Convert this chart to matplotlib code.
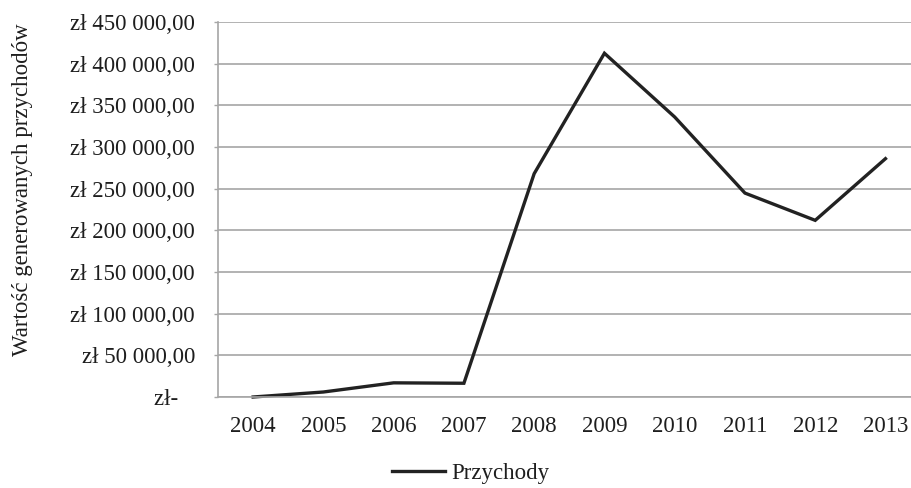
import matplotlib
matplotlib.use("Agg")
import matplotlib.pyplot as plt

years = ["2004", "2005", "2006", "2007", "2008", "2009", "2010", "2011", "2012", "2013"]
revenue = [0, 6000, 17000, 16500, 268000, 412500, 336000, 244700, 212000, 286000]
y_ticks = [0, 50000, 100000, 150000, 200000, 250000, 300000, 350000, 400000, 450000]
y_tick_labels = ["zł-   ", "zł 50 000,00", "zł 100 000,00", "zł 150 000,00", "zł 200 000,00",
                 "zł 250 000,00", "zł 300 000,00", "zł 350 000,00", "zł 400 000,00", "zł 450 000,00"]
series_name = "Przychody"
y_label = "Wartość generowanych przychodów"

plt.rcParams['font.family'] = ['Liberation Serif', 'DejaVu Serif']
FS = 16.5
TXT = '#1e1e1e'
GRID = '#a6a6a6'

fig = plt.figure(figsize=(9.11, 4.88), dpi=100)
ax = fig.add_axes([218/911, 1-397/488, (920.6-218)/911, (397-22)/488])

x = list(range(len(years)))
ax.plot(x, revenue, color='#222222', lw=2.4, solid_joinstyle='miter', label=series_name,
        clip_on=False)

ax.set_xlim(-0.5, len(years)-0.5)
ax.set_ylim(0, 450000)
ax.set_xticks(x)
ax.set_xticklabels(years, fontsize=FS, color=TXT)
ax.set_yticks(y_ticks)
ax.set_yticklabels(y_tick_labels, fontsize=FS, color=TXT)
ax.tick_params(axis='x', length=0, pad=14)
ax.tick_params(axis='y', length=3, width=1, color=GRID, pad=13.5)

ax.grid(axis='y', color=GRID, lw=1.2)
ax.set_axisbelow(True)
for s in ['top', 'right']:
    ax.spines[s].set_visible(False)
ax.spines['left'].set_color(GRID)
ax.spines['bottom'].set_color(GRID)
ax.spines['left'].set_linewidth(1.2)
ax.spines['bottom'].set_linewidth(1.2)

fig.text(23/911, 1-190/488, y_label, rotation=90, ha='center', va='center',
         fontsize=FS, color=TXT)

leg = fig.legend(loc='center', bbox_to_anchor=(471/911, 1-473/488), frameon=False,
                 fontsize=FS, handlelength=2.3, handletextpad=0.3, labelcolor=TXT)

fig.savefig("out.png", dpi=100)
